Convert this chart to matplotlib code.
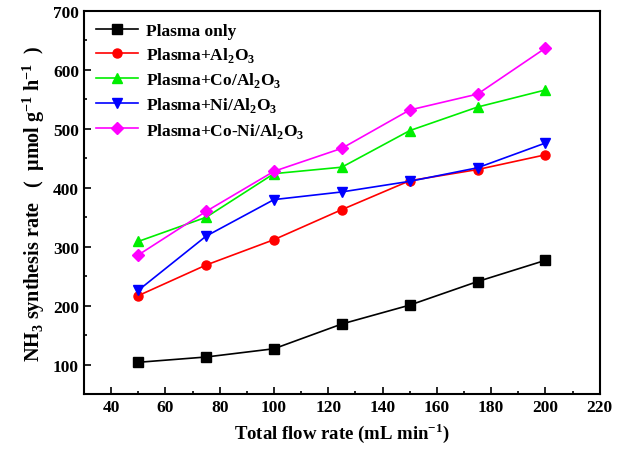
import matplotlib
matplotlib.use("Agg")
import matplotlib.pyplot as plt
from matplotlib.ticker import MultipleLocator

plt.rcParams['font.family'] = ['Liberation Serif', 'DejaVu Serif']
plt.rcParams['font.weight'] = 'bold'
plt.rcParams['mathtext.fontset'] = 'custom'
plt.rcParams['mathtext.rm'] = 'Liberation Serif:bold'
plt.rcParams['mathtext.bf'] = 'Liberation Serif:bold'

# flow rate (mL/min)
flow = [50, 75, 100, 125, 150, 175, 200]

# NH3 synthesis rate (umol g-1 h-1)
plasma_only = [104, 113, 127, 169, 201, 241, 277]
plasma_al2o3 = [217, 269, 312, 363, 412, 431, 456]
plasma_co = [309, 350, 424, 435, 497, 537, 566]
plasma_ni = [226, 318, 380, 393, 411, 434, 476]
plasma_coni = [286, 360, 428, 467, 532, 559, 637]

labels = ['Plasma only',
          r'Plasma+Al$_\mathregular{2}$O$_\mathregular{3}$',
          r'Plasma+Co/Al$_\mathregular{2}$O$_\mathregular{3}$',
          r'Plasma+Ni/Al$_\mathregular{2}$O$_\mathregular{3}$',
          r'Plasma+Co-Ni/Al$_\mathregular{2}$O$_\mathregular{3}$']
series = [plasma_only, plasma_al2o3, plasma_co, plasma_ni, plasma_coni]
colors = ['black', 'red', '#00ee00', 'blue', '#ff00ff']
markers = ['s', 'o', '^', 'v', 'D']

fig = plt.figure(figsize=(6.17, 4.60), dpi=100)
ax = fig.add_axes([0.136, 0.141, 0.836, 0.833])

for y, lab, c, m in zip(series, labels, colors, markers):
    ax.plot(flow, y, color=c, marker=m, markersize=6.5, linewidth=1.2, label=lab)

ax.set_xlim(30, 220)
ax.set_ylim(50, 700)
ax.xaxis.set_major_locator(MultipleLocator(20))
ax.xaxis.set_minor_locator(MultipleLocator(10))
ax.yaxis.set_major_locator(MultipleLocator(100))
ax.yaxis.set_minor_locator(MultipleLocator(50))
ax.tick_params(which='both', direction='in', labelsize=12.5, width=1.2)
ax.tick_params(which='major', length=5)
ax.tick_params(which='minor', length=2.5)
for lbl in ax.get_xticklabels() + ax.get_yticklabels():
    lbl.set_fontweight('bold')
for s in ax.spines.values():
    s.set_linewidth(1.5)

ax.set_xlabel(r'Total flow rate (mL min$^\mathregular{-1}$)', fontsize=13.5, fontweight='bold')
ax.set_ylabel(r'NH$_\mathregular{3}$ synthesis rate   (  $\mathregular{\mu}$mol g$^\mathregular{-1}$ h$^\mathregular{-1}$  )',
              fontsize=14.5, fontweight='bold', labelpad=4)

ax.legend(loc='upper left', frameon=False, fontsize=12.5, handlelength=2.4,
          borderaxespad=0.3, labelspacing=0.35, handletextpad=0.5)

fig.savefig('out.png', dpi=100)
